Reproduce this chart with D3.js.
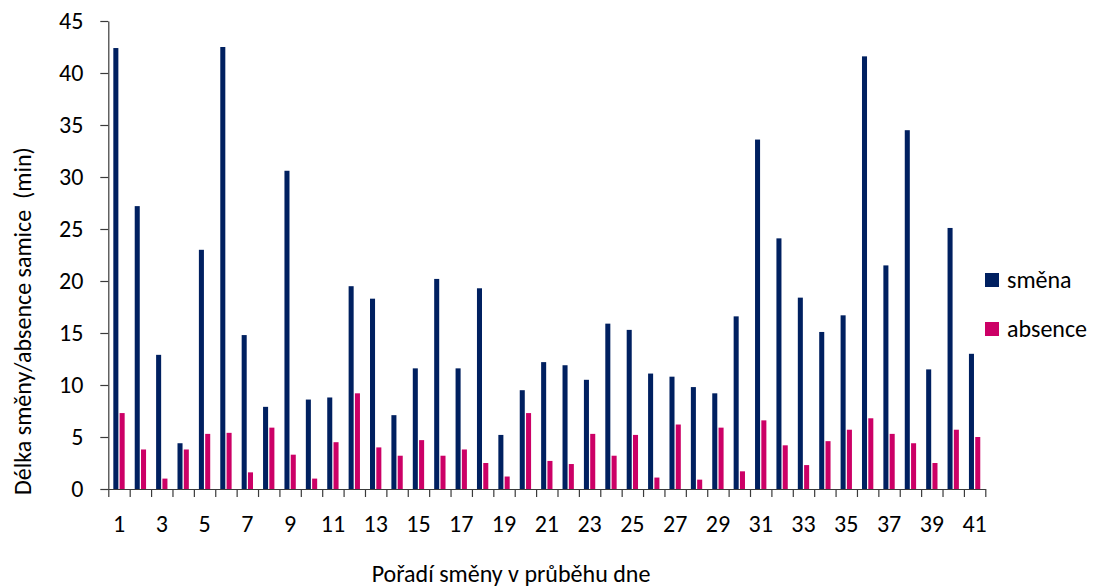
<!DOCTYPE html>
<html>
<head>
<meta charset="utf-8">
<script src="https://cdn.jsdelivr.net/npm/d3@7"></script>
<style>
  html, body { margin: 0; padding: 0; background: #fff; }
  svg text { font-family: Carlito, Calibri, "Open Sans", sans-serif; fill: #000; white-space: pre; }
</style>
</head>
<body>
<svg id="chart" width="1103" height="588"></svg>
<script>
// Shift order within the day, 1..41
const shifts = d3.range(1, 42);
// Length of each shift (min)
const smena = [42.4, 27.2, 12.9, 4.4, 23.0, 42.5, 14.8, 7.9, 30.6, 8.6,
               8.8, 19.5, 18.3, 7.1, 11.6, 20.2, 11.6, 19.3, 5.2, 9.5,
               12.2, 11.9, 10.5, 15.9, 15.3, 11.1, 10.8, 9.8, 9.2, 16.6,
               33.6, 24.1, 18.4, 15.1, 16.7, 41.6, 21.5, 34.5, 11.5, 25.1,
               13.0];
// Female absence during each shift (min)
const absence = [7.3, 3.8, 1.0, 3.8, 5.3, 5.4, 1.6, 5.9, 3.3, 1.0,
                 4.5, 9.2, 4.0, 3.2, 4.7, 3.2, 3.8, 2.5, 1.2, 7.3,
                 2.7, 2.4, 5.3, 3.2, 5.2, 1.1, 6.2, 0.9, 5.9, 1.7,
                 6.6, 4.2, 2.3, 4.6, 5.7, 6.8, 5.3, 4.4, 2.5, 5.7,
                 5.0];
const seriesNames = ["směna", "absence"];
const seriesColors = ["#002060", "#CC0066"];
const yTicks = [0, 5, 10, 15, 20, 25, 30, 35, 40, 45];
const xTitle = "Pořadí směny v průběhu dne";
const yTitle = "Délka směny/absence samice  (min)";

const rows = shifts.map((s, i) => ({ shift: s, values: [smena[i], absence[i]] }));

const svg = d3.select("#chart");
const plot = { left: 108.3, right: 985.3, top: 21, bottom: 489 };

const x = d3.scaleBand().domain(shifts).range([plot.left, plot.right]).padding(0);
const xEdges = d3.scaleLinear().domain([0, shifts.length]).range([plot.left, plot.right]);
const bw = x.bandwidth();
const x1 = d3.scaleBand().domain(seriesNames)
  .range([bw * 0.235, bw * 0.765]).paddingInner(0.2).paddingOuter(0);
const y = d3.scaleLinear().domain([0, 45]).range([plot.bottom, plot.top]);
const color = d3.scaleOrdinal().domain(seriesNames).range(seriesColors);

// Bars
const groups = svg.append("g").selectAll("g").data(rows).join("g")
  .attr("transform", d => `translate(${x(d.shift)},0)`);
groups.selectAll("rect")
  .data(d => d.values.map((v, k) => ({ name: seriesNames[k], v })))
  .join("rect")
  .attr("x", d => x1(d.name))
  .attr("width", x1.bandwidth())
  .attr("y", d => y(d.v))
  .attr("height", d => y(0) - y(d.v))
  .attr("fill", d => color(d.name));

// Y axis
const yAxis = svg.append("g")
  .attr("transform", `translate(${plot.left},0)`)
  .call(d3.axisLeft(y).tickValues(yTicks).tickSize(8).tickPadding(17).tickSizeOuter(0));
yAxis.select(".domain").attr("stroke", "#3a3a3a").attr("stroke-width", 1.2);
yAxis.selectAll(".tick line").attr("stroke", "#3a3a3a").attr("stroke-width", 1.2);
yAxis.selectAll(".tick text").attr("font-size", 24).attr("dy", "0.32em");

// X axis: tick marks at category boundaries
const xTickAxis = svg.append("g")
  .attr("transform", `translate(0,${plot.bottom})`)
  .call(d3.axisBottom(xEdges).tickValues(d3.range(0, shifts.length + 1))
    .tickSize(8).tickSizeOuter(0).tickFormat(""));
xTickAxis.select(".domain").attr("stroke", "#3a3a3a").attr("stroke-width", 1.2);
xTickAxis.selectAll(".tick line").attr("stroke", "#3a3a3a").attr("stroke-width", 1.2);

// X axis labels at every other category
const xLabelAxis = svg.append("g")
  .attr("transform", `translate(0,${plot.bottom})`)
  .call(d3.axisBottom(x).tickValues(shifts.filter(s => s % 2 === 1))
    .tickSize(0).tickPadding(26));
xLabelAxis.select(".domain").remove();
xLabelAxis.selectAll(".tick text").attr("font-size", 24);

// Axis titles
svg.append("text")
  .attr("x", 511).attr("y", 582)
  .attr("text-anchor", "middle").attr("font-size", 24)
  .text(xTitle);
svg.append("text")
  .attr("transform", "translate(31,321) rotate(-90)")
  .attr("text-anchor", "middle").attr("font-size", 24)
  .text(yTitle);

// Legend
const legend = svg.append("g").selectAll("g").data(seriesNames).join("g")
  .attr("transform", (d, i) => `translate(985,${273 + i * 49})`);
legend.append("rect").attr("width", 14).attr("height", 14).attr("fill", d => color(d));
legend.append("text").attr("x", 22).attr("y", 7).attr("dy", "0.33em")
  .attr("font-size", 24).text(d => d);
</script>
</body>
</html>
